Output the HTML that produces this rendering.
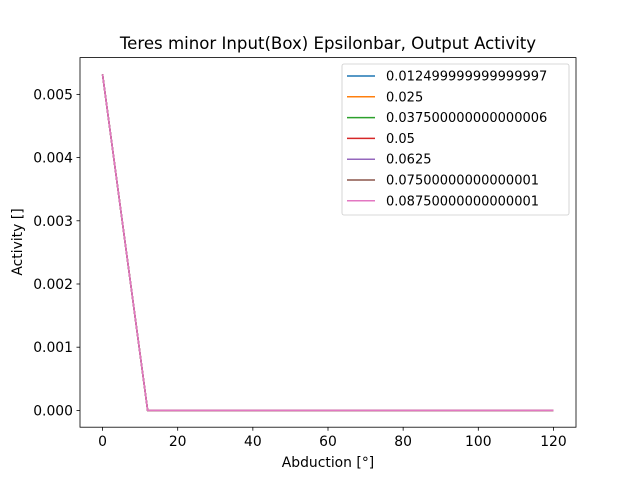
<!DOCTYPE html>
<html><head><meta charset="utf-8"><style>
body{margin:0;background:#fff;}
svg text{font-family:"DejaVu Sans","Liberation Sans",sans-serif;}
</style></head><body>
<svg id="chart" width="640" height="480" viewBox="0 0 640 480">
<rect width="640" height="480" fill="#fff"/>
<text x="328" y="49" text-anchor="middle" font-size="16.6">Teres minor Input(Box) Epsilonbar, Output Activity</text>
<g id="plot"></g>
<rect x="80" y="57.6" width="496" height="369.6" fill="none" stroke="#000" stroke-width="0.8"/>
<g id="xt"></g><g id="yt"></g>
<text x="328" y="467" text-anchor="middle" font-size="13.9">Abduction [°]</text>
<text transform="translate(22,242) rotate(-90)" text-anchor="middle" font-size="13.9">Activity []</text>
<g id="legend"></g>
</svg>
<script>
const xs=[0,12,24,36,48,60,72,84,96,108,120];
const seriesNames=["0.012499999999999997","0.025","0.037500000000000006","0.05","0.0625","0.07500000000000001","0.08750000000000001"];
const s1=[0.005316,0,0,0,0,0,0,0,0,0,0];
const s2=[0.005316,0,0,0,0,0,0,0,0,0,0];
const s3=[0.005316,0,0,0,0,0,0,0,0,0,0];
const s4=[0.005316,0,0,0,0,0,0,0,0,0,0];
const s5=[0.005316,0,0,0,0,0,0,0,0,0,0];
const s6=[0.005316,0,0,0,0,0,0,0,0,0,0];
const s7=[0.005316,0,0,0,0,0,0,0,0,0,0];
const xTicks=[0,20,40,60,80,100,120];
const yTicks=[0,0.001,0.002,0.003,0.004,0.005];
const yLabels=["0.000","0.001","0.002","0.003","0.004","0.005"];
const colors=["#1f77b4","#ff7f0e","#2ca02c","#d62728","#9467bd","#8c564b","#e377c2"];
const series=[s1,s2,s3,s4,s5,s6,s7];
const NS="http://www.w3.org/2000/svg";
const L=80,R=576,T=57.6,B=427.2;
let xmin=Math.min(...xs),xmax=Math.max(...xs);
let all=series.flat();let ymin=Math.min(...all),ymax=Math.max(...all);
let dx=(xmax-xmin)*0.05,dy=(ymax-ymin)*0.05||0.0001;
const X=v=>L+(v-(xmin-dx))/(xmax-xmin+2*dx)*(R-L);
const Y=v=>B-(v-(ymin-dy))/(ymax-ymin+2*dy)*(B-T);
function mk(t,a,p){const e=document.createElementNS(NS,t);for(const k in a)e.setAttribute(k,a[k]);p.appendChild(e);return e;}
const plot=document.getElementById('plot');
series.forEach((s,i)=>{
 const p=mk('polyline',{points:s.map((v,j)=>X(xs[j])+','+Y(v)).join(' '),fill:'none',stroke:colors[i],'stroke-width':1.5},plot);
 
 
});
const xt=document.getElementById('xt');
xTicks.forEach(t=>{
 const l=mk('line',{x1:X(t),x2:X(t),y1:B,y2:B+3.5,stroke:'#000','stroke-width':0.8},xt);
 
 
 const tx=mk('text',{x:X(t),y:B+19,'text-anchor':'middle','font-size':13.9},xt);tx.textContent=t;
 
 
});
const yt=document.getElementById('yt');
yTicks.forEach((t,i)=>{
 const l=mk('line',{x1:L-3.5,x2:L,y1:Y(t),y2:Y(t),stroke:'#000','stroke-width':0.8},yt);
 
 
 const tx=mk('text',{x:L-7,y:Y(t)+5,'text-anchor':'end','font-size':13.9},yt);tx.textContent=yLabels[i];
 
 
});
const lg=document.getElementById('legend');
const box=mk('rect',{x:342,y:64,width:227,height:151,rx:2,fill:'#fff','fill-opacity':0.8,stroke:'#ccc','stroke-width':0.8},lg);


seriesNames.forEach((n,i)=>{
 const y=76+i*20.8;
 const l=mk('line',{x1:347,x2:375,y1:y,y2:y,stroke:colors[i],'stroke-width':1.5},lg);
 
 
 const t=mk('text',{x:386,y:y+4.5,'font-size':13},lg);t.textContent=n;
 
 
});
</script>
</body></html>
